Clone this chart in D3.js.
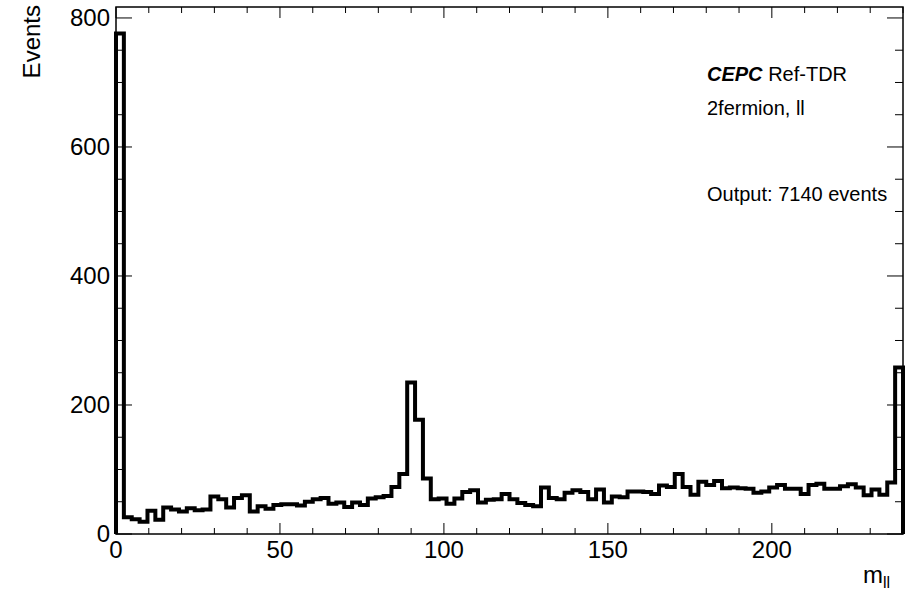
<!DOCTYPE html>
<html>
<head>
<meta charset="utf-8">
<script src="https://cdn.jsdelivr.net/npm/d3@7"></script>
<style>
  html, body { margin: 0; padding: 0; background: #fff; }
  svg { display: block; font-family: "Liberation Sans", Arial, Helvetica, sans-serif; }
</style>
</head>
<body>
<svg id="chart" width="905" height="593"></svg>
<script>
// ---- data ----
const binLow = 0;
const binHigh = 240;
const counts = [
  776, 26, 23, 19, 36, 22, 41, 38, 35, 40,
  37, 38, 58, 54, 41, 56, 60, 35, 43, 39,
  45, 46, 46, 44, 50, 54, 56, 47, 49, 42,
  49, 45, 55, 57, 59, 73, 93, 235, 177, 86,
  54, 55, 47, 55, 65, 68, 49, 53, 54, 62,
  54, 48, 45, 43, 72, 56, 54, 64, 68, 65,
  54, 69, 49, 58, 57, 66, 66, 65, 62, 75,
  73, 93, 73, 61, 81, 76, 82, 71, 72, 71,
  70, 64, 66, 72, 76, 70, 70, 62, 76, 78,
  70, 70, 74, 77, 72, 60, 69, 61, 80, 258
];
const xMajorTicks = [0, 50, 100, 150, 200];
const xMinorTicks = d3.range(0, 241, 10);
const yMajorTicks = [0, 200, 400, 600, 800];
const yMinorTicks = d3.range(0, 801, 50);
const yMax = 817;
const labels = {
  experiment: "CEPC",
  tag: "Ref-TDR",
  process: "2fermion, ll",
  output: "Output: 7140 events",
  yTitle: "Events"
};

// ---- layout ----
const L = 116, R = 903, T = 7, B = 534;
const svg = d3.select("#chart");
const x = d3.scaleLinear().domain([binLow, binHigh]).range([L, R]);
const y = d3.scaleLinear().domain([0, yMax]).range([B, T]);
const nb = counts.length;
const w = (binHigh - binLow) / nb;

// histogram path
const pts = [[binLow, 0]];
counts.forEach((c, i) => {
  pts.push([binLow + i * w, c]);
  pts.push([binLow + (i + 1) * w, c]);
});
pts.push([binHigh, 0]);
const line = d3.line().x(d => x(d[0])).y(d => y(d[1]));

// frame
svg.append("rect")
  .attr("x", L).attr("y", T).attr("width", R - L).attr("height", B - T)
  .attr("fill", "none").attr("stroke", "#000").attr("stroke-width", 1.5);

const ticks = svg.append("g").attr("stroke", "#000").attr("stroke-width", 1);
// x ticks bottom & top
xMinorTicks.forEach(v => {
  const major = xMajorTicks.includes(v);
  const len = major ? 11 : 6;
  ticks.append("line").attr("x1", x(v)).attr("x2", x(v)).attr("y1", B).attr("y2", B - len);
  ticks.append("line").attr("x1", x(v)).attr("x2", x(v)).attr("y1", T).attr("y2", T + len);
});
// y ticks left & right
yMinorTicks.forEach(v => {
  const major = yMajorTicks.includes(v);
  const len = major ? 16 : 8;
  ticks.append("line").attr("x1", L).attr("x2", L + len).attr("y1", y(v)).attr("y2", y(v));
  ticks.append("line").attr("x1", R).attr("x2", R - len).attr("y1", y(v)).attr("y2", y(v));
});

// histogram
svg.append("path")
  .attr("d", line(pts))
  .attr("fill", "none")
  .attr("stroke", "#000")
  .attr("stroke-width", 4)
  .attr("stroke-linejoin", "miter");

// tick labels
svg.append("g").selectAll("text").data(xMajorTicks).join("text")
  .attr("x", d => x(d)).attr("y", 558)
  .attr("text-anchor", "middle").attr("font-size", 24)
  .text(d => d);
svg.append("g").selectAll("text").data(yMajorTicks).join("text")
  .attr("x", 110).attr("y", d => y(d) + 8)
  .attr("text-anchor", "end").attr("font-size", 24)
  .text(d => d);

// axis titles
svg.append("text")
  .attr("transform", "translate(40,5) rotate(-90)")
  .attr("text-anchor", "end").attr("font-size", 24)
  .text(labels.yTitle);
const xt = svg.append("text").attr("x", 890).attr("y", 583)
  .attr("text-anchor", "end").attr("font-size", 24);
xt.append("tspan").text("m");
xt.append("tspan").attr("font-size", 16).attr("dy", 5).text("ll");

// annotations
const t1 = svg.append("text").attr("x", 707).attr("y", 81).attr("font-size", 20);
t1.append("tspan").attr("font-weight", "bold").attr("font-style", "italic").text(labels.experiment);
t1.append("tspan").text(" " + labels.tag);
svg.append("text").attr("x", 707).attr("y", 115).attr("font-size", 20).text(labels.process);
svg.append("text").attr("x", 707).attr("y", 201).attr("font-size", 20).text(labels.output);
</script>
</body>
</html>
